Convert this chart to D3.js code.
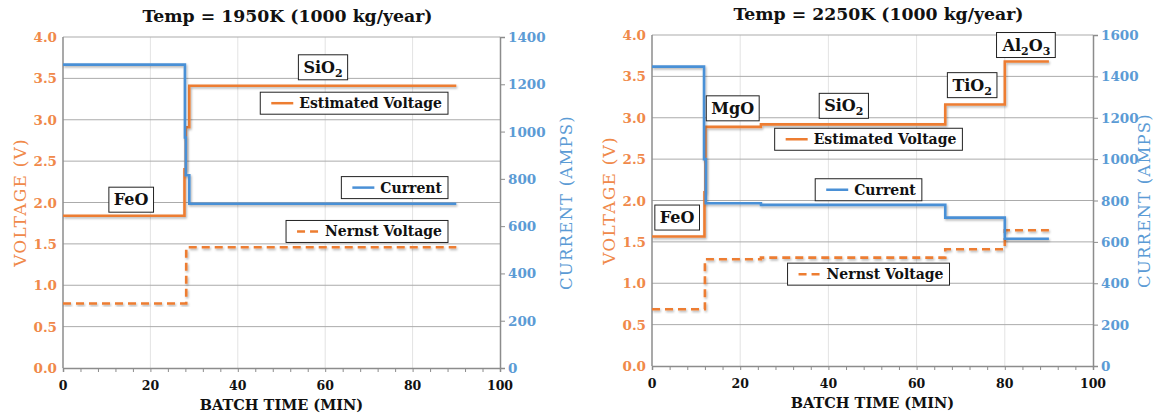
<!DOCTYPE html>
<html>
<head>
<meta charset="utf-8">
<script src="https://cdn.jsdelivr.net/npm/d3@7"></script>
<style>
  body { margin: 0; background: #fff; }
  svg { display: block; }
</style>
</head>
<body>
<div id="chart"></div>
<script>
var width = 1156;
var height = 417;

// ---- data ----
var timeTicks = [0, 20, 40, 60, 80, 100];
var voltTicks = [0, 0.5, 1.0, 1.5, 2.0, 2.5, 3.0, 3.5, 4.0];
var ampTicksA = [0, 200, 400, 600, 800, 1000, 1200, 1400];
var ampTicksB = [0, 200, 400, 600, 800, 1000, 1200, 1400, 1600];

// 1950K : step edges (min) and the level held from each edge
var estTimeA = [0, 27.8, 28.1, 28.9, 90];
var estVoltA = [1.84, 2.4, 2.91, 3.41];
var curTimeA = [0, 27.9, 28.1, 28.9, 90];
var curAmpA = [1283, 975, 815, 695];
var nerTimeA = [0, 28.2, 90];
var nerVoltA = [0.78, 1.46];

// 2250K
var estTimeB = [0, 11.9, 12.1, 24.7, 66.5, 80, 90];
var estVoltB = [1.565, 2.1, 2.89, 2.92, 3.16, 3.68];
var curTimeB = [0, 11.8, 12.2, 24.7, 66.5, 80, 90];
var curAmpB = [1447, 1000, 787, 779, 717, 615];
var nerTimeB = [0, 12, 24.7, 66.5, 80, 90];
var nerVoltB = [0.685, 1.29, 1.31, 1.41, 1.64];

var titleA = "Temp = 1950K (1000 kg/year)";
var titleB = "Temp = 2250K (1000 kg/year)";

// compound labels: [text, subscript] pairs
var tagsA = [[["SiO", ""], ["2", "sub"]], [["FeO", ""]]];
var tagsB = [[["Al", ""], ["2", "sub"], ["O", ""], ["3", "sub"]], [["TiO", ""], ["2", "sub"]],
             [["SiO", ""], ["2", "sub"]], [["MgO", ""]], [["FeO", ""]]];
var legendNames = ["Estimated Voltage", "Current", "Nernst Voltage"];

var orange = "#ed7d31";
var blue = "#4a90d6";
var serif = "'DejaVu Serif', serif";

var svg = d3.select("#chart")
    .append("svg")
    .attr("width", width)
    .attr("height", height)
    .attr("font-family", serif);

var defs = svg.append("defs");
defs.append("filter")
    .attr("id", "shadow")
    .attr("x", "-5%").attr("y", "-5%").attr("width", "110%").attr("height", "110%")
  .append("feDropShadow")
    .attr("dx", 1).attr("dy", 1.5).attr("stdDeviation", 1)
    .attr("flood-color", "#000").attr("flood-opacity", 0.3);

function steps(times, vals) {
  var pts = vals.map(function(v, i) { return [times[i], v]; });
  pts.push([times[times.length - 1], vals[vals.length - 1]]);
  return pts;
}

function drawChart(cfg) {
  var g = svg.append("g");
  var x = d3.scaleLinear().domain([0, 100]).range([cfg.left, cfg.right]);
  var y = d3.scaleLinear().domain([0, 4]).range([cfg.bottom, cfg.top]);
  var y2 = d3.scaleLinear().domain([0, cfg.ampMax]).range([cfg.bottom, cfg.top]);

  // vertical grid
  g.selectAll(".vgrid")
    .data(timeTicks.filter(function(d) { return d > 0 && d < 100; }))
    .enter().append("line")
      .attr("x1", function(d) { return x(d); })
      .attr("x2", function(d) { return x(d); })
      .attr("y1", cfg.top).attr("y2", cfg.bottom)
      .attr("stroke", "#e3e3e3").attr("stroke-width", 1);

  // horizontal grid
  g.selectAll(".hgrid")
    .data(voltTicks.filter(function(d) { return d > 0; }))
    .enter().append("line")
      .attr("x1", cfg.left).attr("x2", cfg.right)
      .attr("y1", function(d) { return y(d); })
      .attr("y2", function(d) { return y(d); })
      .attr("stroke", "#ababab").attr("stroke-width", 1);

  // x axis with minor ticks
  var xAxis = g.append("g")
      .attr("transform", "translate(0," + cfg.bottom + ")")
      .call(d3.axisBottom(x).tickValues(d3.range(0, 101, 4)).tickSize(4).tickFormat(""));
  xAxis.select(".domain").attr("stroke", "#8c8c8c").attr("stroke-width", 1.5);
  xAxis.selectAll(".tick line").attr("stroke", "#8c8c8c");

  g.selectAll(".xlab")
    .data(timeTicks)
    .enter().append("text")
      .attr("x", function(d) { return x(d); })
      .attr("y", cfg.bottom + 22)
      .attr("text-anchor", "middle")
      .attr("font-size", 12.5)
      .attr("font-weight", "bold")
      .attr("fill", "#111")
      .text(function(d) { return d; });

  // left axis
  g.append("line")
      .attr("x1", cfg.left).attr("x2", cfg.left)
      .attr("y1", cfg.top).attr("y2", cfg.bottom)
      .attr("stroke", "#8c8c8c").attr("stroke-width", 1.5);
  g.selectAll(".ylab")
    .data(voltTicks)
    .enter().append("text")
      .attr("x", cfg.left - 6)
      .attr("y", function(d) { return y(d) + 5; })
      .attr("text-anchor", "end")
      .attr("font-size", 13.5)
      .attr("font-weight", "bold")
      .attr("fill", "#f0894a")
      .text(d3.format(".1f"));

  // right axis
  var rAxis = g.append("g")
      .attr("transform", "translate(" + cfg.right + ",0)")
      .call(d3.axisRight(y2).tickValues(cfg.ampTicks).tickSize(5).tickFormat(""));
  rAxis.select(".domain").attr("stroke", "#8c8c8c").attr("stroke-width", 1.5);
  rAxis.selectAll(".tick line").attr("stroke", "#8c8c8c");
  g.selectAll(".y2lab")
    .data(cfg.ampTicks)
    .enter().append("text")
      .attr("x", cfg.right + 8)
      .attr("y", function(d) { return y2(d) + 5; })
      .attr("text-anchor", "start")
      .attr("font-size", 13.5)
      .attr("font-weight", "bold")
      .attr("fill", "#5b9bd5")
      .text(function(d) { return d; });

  // titles
  g.append("text")
      .attr("x", (cfg.left + cfg.right) / 2 + 6)
      .attr("y", cfg.top - 15)
      .attr("text-anchor", "middle")
      .attr("font-size", 17.3)
      .attr("font-weight", "bold")
      .attr("fill", "#111")
      .text(cfg.title);
  g.append("text")
      .attr("x", (cfg.left + cfg.right) / 2)
      .attr("y", cfg.bottom + 42)
      .attr("text-anchor", "middle")
      .attr("font-size", 14.5)
      .attr("font-weight", "bold")
      .attr("fill", "#111")
      .text("BATCH TIME (MIN)");
  g.append("text")
      .attr("transform", "translate(" + (cfg.left - 37) + "," + ((cfg.top + cfg.bottom) / 2) + ") rotate(-90)")
      .attr("text-anchor", "middle")
      .attr("font-size", 17)
      .attr("letter-spacing", 1.2)
      .attr("fill", "#f0894a")
      .text("VOLTAGE (V)");
  g.append("text")
      .attr("transform", "translate(" + (cfg.right + cfg.ampLabelGap) + "," + ((cfg.top + cfg.bottom) / 2) + ") rotate(-90)")
      .attr("text-anchor", "middle")
      .attr("font-size", 16.5)
      .attr("letter-spacing", 1.2)
      .attr("fill", "#5b9bd5")
      .text("CURRENT (AMPS)");

  // series
  var lineV = d3.line().curve(d3.curveStepAfter)
      .x(function(d) { return x(d[0]); }).y(function(d) { return y(d[1]); });
  var lineA = d3.line().curve(d3.curveStepAfter)
      .x(function(d) { return x(d[0]); }).y(function(d) { return y2(d[1]); });

  g.append("path")
      .attr("d", lineV(steps(cfg.nerTime, cfg.nerVolt)))
      .attr("fill", "none").attr("stroke", orange).attr("stroke-width", 2.6)
      .attr("stroke-dasharray", "8,5")
      .attr("filter", "url(#shadow)");
  g.append("path")
      .attr("d", lineV(steps(cfg.estTime, cfg.estVolt)))
      .attr("fill", "none").attr("stroke", orange).attr("stroke-width", 2.6)
      .attr("filter", "url(#shadow)");
  g.append("path")
      .attr("d", lineA(steps(cfg.curTime, cfg.curAmp)))
      .attr("fill", "none").attr("stroke", blue).attr("stroke-width", 2.6)
      .attr("filter", "url(#shadow)");

  // compound tags
  cfg.tags.forEach(function(parts, i) {
    var pos = cfg.tagPos[i];
    var tg = g.append("g");
    var t = tg.append("text")
        .attr("x", x(pos[0]))
        .attr("y", y(pos[1]) + 6)
        .attr("text-anchor", "middle")
        .attr("font-size", 16)
        .attr("font-weight", "bold")
        .attr("fill", "#111");
    parts.forEach(function(p) {
      var s = t.append("tspan").text(p[0]);
      if (p[1] === "sub") s.attr("font-size", 11).attr("baseline-shift", "-4");
    });
    var bb = t.node().getBBox();
    tg.insert("rect", "text")
        .attr("x", bb.x - 5).attr("y", y(pos[1]) - 12)
        .attr("width", bb.width + 10).attr("height", 25)
        .attr("fill", "#fff").attr("stroke", "#222").attr("stroke-width", 1);
  });

  // legend boxes
  var styles = [
    {color: orange, dash: null},
    {color: blue, dash: null},
    {color: orange, dash: "8,5"}
  ];
  legendNames.forEach(function(name, i) {
    var pos = cfg.legendPos[i];
    var lg = g.append("g");
    var t = lg.append("text")
        .attr("y", y(pos[1]) + 5)
        .attr("font-size", 14)
        .attr("font-weight", "bold")
        .attr("fill", "#111")
        .text(name);
    var tw = t.node().getComputedTextLength();
    var boxW = 11 + 22 + 6 + tw + 6;
    var bx = cfg.legendAlign === "right" ? x(pos[0]) - boxW : x(pos[0]) - boxW / 2;
    t.attr("x", bx + 11 + 22 + 6);
    lg.insert("rect", "text")
        .attr("x", bx).attr("y", y(pos[1]) - 11)
        .attr("width", boxW).attr("height", 22)
        .attr("fill", "#fff").attr("stroke", "#222").attr("stroke-width", 1);
    lg.append("line")
        .attr("x1", bx + 11).attr("x2", bx + 33)
        .attr("y1", y(pos[1])).attr("y2", y(pos[1]))
        .attr("stroke", styles[i].color).attr("stroke-width", 2.5)
        .attr("stroke-dasharray", styles[i].dash);
  });
}

drawChart({
  left: 63, right: 500, top: 37, bottom: 368,
  ampMax: 1400, ampTicks: ampTicksA, title: titleA, ampLabelGap: 72,
  estTime: estTimeA, estVolt: estVoltA,
  curTime: curTimeA, curAmp: curAmpA,
  nerTime: nerTimeA, nerVolt: nerVoltA,
  tags: tagsA, tagPos: [[59.5, 3.64], [15.6, 2.04]],
  legendAlign: "right",
  legendPos: [[88.1, 3.2], [88.1, 2.18], [88.1, 1.65]]
});

drawChart({
  left: 652, right: 1093, top: 35, bottom: 366,
  ampMax: 1600, ampTicks: ampTicksB, title: titleB, ampLabelGap: 57,
  estTime: estTimeB, estVolt: estVoltB,
  curTime: curTimeB, curAmp: curAmpB,
  nerTime: nerTimeB, nerVolt: nerVoltB,
  tags: tagsB, tagPos: [[84.9, 3.885], [72.6, 3.40], [43.5, 3.15], [18.3, 3.12], [5.7, 1.80]],
  legendAlign: "center",
  legendPos: [[49.1, 2.74], [49.1, 2.13], [49.1, 1.11]]
});
</script>
</body>
</html>
